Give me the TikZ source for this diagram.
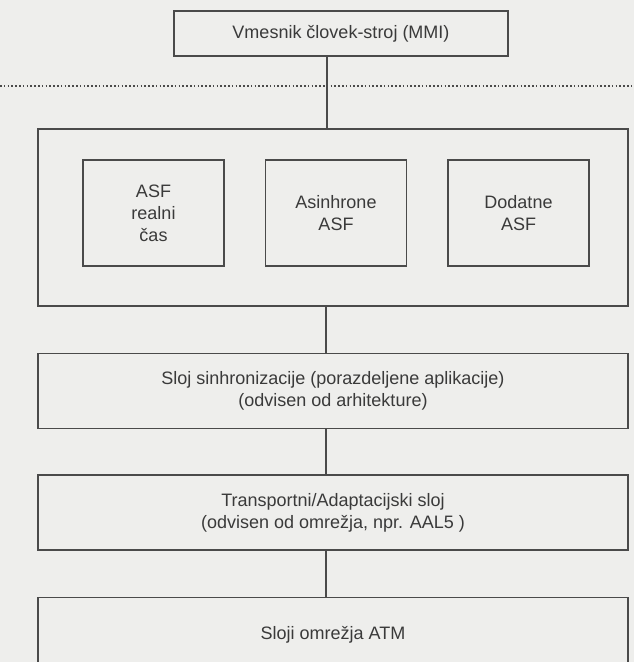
\documentclass[tikz,border=0pt]{standalone}
\usepackage{fontspec}
\setmainfont{Liberation Sans}
\usepackage{xcolor}
\definecolor{lineDark}{HTML}{4A4A4A}
\definecolor{textDark}{HTML}{3A3A3A}
\definecolor{paperColor}{HTML}{EEEEEC}
\usepackage{tikz}
\usetikzlibrary{positioning}
\tikzset{
  layerBox/.style={
    rectangle,
    draw=lineDark,
    fill=paperColor,
    line width=1.5pt,
    minimum width=590pt,
    minimum height=75pt,
    inner sep=0pt,
    text=textDark,
    align=center,
    font=\fontsize{18}{22}\selectfont
 },
  groupBox/.style={
    layerBox,
    minimum height=177pt
 },
  mmiBox/.style={
    layerBox,
    minimum width=334pt,
    minimum height=45pt
 },
  asfBox/.style={
    layerBox,
    minimum width=141pt,
    minimum height=106pt
 },
  linkLine/.style={
    line width=1.5pt,
    draw=lineDark
 },
  sepLine/.style={
    line width=1.6pt,
    draw=lineDark,
    dash pattern=on 1.6pt off 2.2pt
 }
}
\begin{document}
\begin{tikzpicture}[x=1pt,y=1pt]
            \useasboundingbox (0,0) rectangle (634,-662);
            \fill[paperColor] (0,0) rectangle (634,-662);
            \clip (0,0) rectangle (634,-662);

            \node[mmiBox] (mmi) at (341,-33.5) {Vmesnik človek-stroj (MMI)};
            \node[groupBox] (asfgroup) at (333,-217.5) {};
            \node[asfBox] (asfrt) at (153.5,-213) {ASF\\realni\\čas};
            \node[asfBox, right=40pt of asfrt] (asfasync) {Asinhrone\\ASF};
            \node[asfBox, right=40pt of asfasync] (asfextra) {Dodatne\\ASF};
            \node[layerBox, below=46pt of asfgroup] (sync) {Sloj sinhronizacije (porazdeljene aplikacije)\\(odvisen od arhitekture)};
            \node[layerBox, below=45pt of sync] (transport) {Transportni/Adaptacijski sloj\\(odvisen od omrežja, npr. AAL5 )};
            \node[layerBox, below=46pt of transport] (atm) {Sloji omrežja ATM};

            % dotted separator across the page
            \coordinate (sepleft) at (0,-86);
            \coordinate (sepright) at (634,-86);
            \draw[sepLine] (sepleft) -- (sepright);

            % links sit a little left of the box centres
            \draw[linkLine] ([xshift=-6pt]asfgroup.north) -- ([xshift=-6pt]asfgroup.north |- mmi.south);
            \draw[linkLine] ([xshift=-7pt]asfgroup.south) -- ([xshift=-7pt]sync.north);
            \draw[linkLine] ([xshift=-7pt]sync.south) -- ([xshift=-7pt]transport.north);
            \draw[linkLine] ([xshift=-7pt]transport.south) -- ([xshift=-7pt]atm.north);
        \end{tikzpicture}
\end{document}
